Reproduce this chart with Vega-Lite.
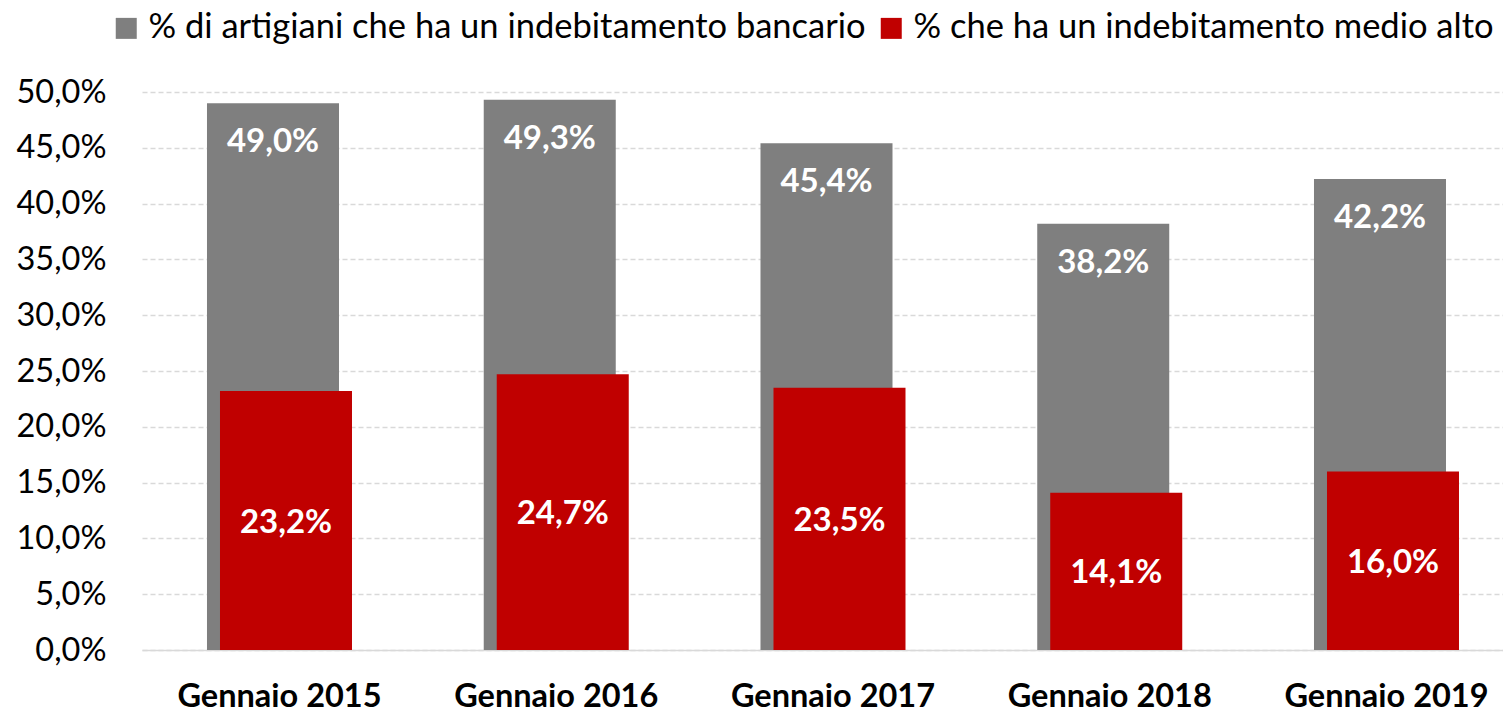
{
  "$schema": "https://vega.github.io/schema/vega-lite/v6.json",
  "width": 1361,
  "height": 558,
  "autosize": {"type": "none"},
  "padding": {"left": 142, "top": 92, "right": 0, "bottom": 63},
  "background": "white",
  "config": {
    "locale": {"number": {"decimal": ",", "thousands": ".", "grouping": [3], "currency": ["", " €"]}},
    "view": {"stroke": null},
    "font": "Lato"
  },
  "data": {
    "values": [
      {"anno": "Gennaio 2015", "serie": "% di artigiani che ha un indebitamento bancario", "valore": 0.490},
      {"anno": "Gennaio 2016", "serie": "% di artigiani che ha un indebitamento bancario", "valore": 0.493},
      {"anno": "Gennaio 2017", "serie": "% di artigiani che ha un indebitamento bancario", "valore": 0.454},
      {"anno": "Gennaio 2018", "serie": "% di artigiani che ha un indebitamento bancario", "valore": 0.382},
      {"anno": "Gennaio 2019", "serie": "% di artigiani che ha un indebitamento bancario", "valore": 0.422},
      {"anno": "Gennaio 2015", "serie": "% che ha un indebitamento medio alto", "valore": 0.232},
      {"anno": "Gennaio 2016", "serie": "% che ha un indebitamento medio alto", "valore": 0.247},
      {"anno": "Gennaio 2017", "serie": "% che ha un indebitamento medio alto", "valore": 0.235},
      {"anno": "Gennaio 2018", "serie": "% che ha un indebitamento medio alto", "valore": 0.141},
      {"anno": "Gennaio 2019", "serie": "% che ha un indebitamento medio alto", "valore": 0.160}
    ]
  },
  "encoding": {
    "x": {
      "field": "anno",
      "type": "nominal",
      "sort": null,
      "title": null,
      "scale": {"paddingInner": 0.523, "paddingOuter": 0.2204, "align": 0.586},
      "axis": {
        "labelAngle": 0,
        "labelFont": "Lato",
        "labelFontSize": 32.5,
        "labelFontWeight": "bold",
        "labelColor": "#000000",
        "labelPadding": 30,
        "labelLimit": 1000,
        "ticks": false,
        "tickSize": 0,
        "domainColor": "#d9d9d9",
        "domainWidth": 1.5,
        "grid": false
      }
    }
  },
  "layer": [
    {
      "layer": [
        {
          "transform": [{"filter": "datum.serie === '% di artigiani che ha un indebitamento bancario'"}],
          "mark": {"type": "bar", "xOffset": -6.5},
          "encoding": {
            "y": {
              "field": "valore",
              "type": "quantitative",
              "title": null,
              "scale": {"domain": [0, 0.5], "nice": false},
              "axis": {
                "values": [0, 0.05, 0.1, 0.15, 0.2, 0.25, 0.3, 0.35, 0.4, 0.45, 0.5],
                "format": ".1%",
                "labelFont": "Lato",
                "labelFontSize": 32.5,
                "labelColor": "#000000",
                "labelPadding": 36,
                "ticks": false,
                "tickSize": 0,
                "domain": false,
                "grid": true,
                "gridColor": "#d9d9d9",
                "gridDash": [5, 3],
                "gridWidth": 1.5
              }
            },
            "color": {
              "field": "serie",
              "type": "nominal",
              "scale": {
                "domain": ["% di artigiani che ha un indebitamento bancario", "% che ha un indebitamento medio alto"],
                "range": ["#7f7f7f", "#c00000"]
              },
              "legend": {
                "title": null,
                "orient": "none",
                "direction": "horizontal",
                "legendX": -33,
                "legendY": -81,
                "padding": 0,
                "symbolType": "square",
                "symbolSize": 441,
                "symbolStrokeWidth": 0,
                "symbolOpacity": 1,
                "labelFont": "Lato",
                "labelFontSize": 34.5,
                "labelColor": "#000000",
                "labelOffset": 5,
                "columnPadding": 8,
                "labelLimit": 1000
              }
            }
          }
        },
        {
          "transform": [{"filter": "datum.serie === '% che ha un indebitamento medio alto'"}],
          "mark": {"type": "bar", "xOffset": 6.5},
          "encoding": {
            "y": {"field": "valore", "type": "quantitative"},
            "color": {"field": "serie", "type": "nominal"}
          }
        },
        {
          "transform": [{"filter": "datum.serie === '% di artigiani che ha un indebitamento bancario'"}],
          "mark": {"type": "text", "xOffset": -6.5, "dy": 39, "baseline": "middle", "align": "center", "color": "white", "fontSize": 33, "fontWeight": "bold", "font": "Lato"},
          "encoding": {
            "y": {"field": "valore", "type": "quantitative"},
            "text": {"field": "valore", "type": "quantitative", "format": ".1%"}
          }
        }
      ]
    },
    {
      "transform": [{"filter": "datum.serie === '% che ha un indebitamento medio alto'"}],
      "mark": {"type": "text", "xOffset": 6.5, "dy": 2, "baseline": "middle", "align": "center", "color": "white", "fontSize": 33, "fontWeight": "bold", "font": "Lato"},
      "encoding": {
        "y": {"field": "valore", "type": "quantitative", "scale": {"domain": [0, 1], "nice": false}, "axis": null},
        "text": {"field": "valore", "type": "quantitative", "format": ".1%"}
      }
    }
  ],
  "resolve": {"scale": {"y": "independent"}}
}
